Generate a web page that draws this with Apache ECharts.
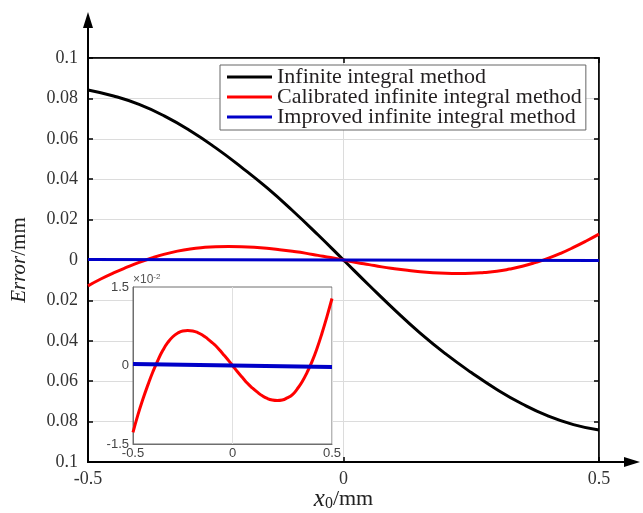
<!DOCTYPE html>
<html><head><meta charset="utf-8">
<script src="https://cdn.jsdelivr.net/npm/echarts@6/dist/echarts.min.js"></script>
</head>
<body style="margin:0;background:#fff">
<div id="c" style="width:643px;height:513px"></div>
<script>
// ---- data (x0 in mm, error in mm) ----
const xCoarse = [-0.5,-0.45,-0.4,-0.35,-0.3,-0.25,-0.2,-0.15,-0.1,-0.05,0,0.05,0.1,0.15,0.2,0.25,0.3,0.35,0.4,0.45,0.5];
const infiniteIntegral = [0.0842,0.0812,0.0770,0.0712,0.0640,0.0555,0.0460,0.0358,0.0245,0.0125,0,-0.0125,-0.0247,-0.0362,-0.0465,-0.0557,-0.0641,-0.0713,-0.0772,-0.0815,-0.0842];
const xFine = [-0.5,-0.475,-0.45,-0.425,-0.4,-0.375,-0.35,-0.325,-0.3,-0.275,-0.25,-0.225,-0.2,-0.175,-0.15,-0.125,-0.1,-0.075,-0.05,-0.025,0,
               0.025,0.05,0.075,0.1,0.125,0.15,0.175,0.2,0.225,0.25,0.275,0.3,0.325,0.35,0.375,0.4,0.425,0.45,0.475,0.5];
const calibrated = [-0.0128,-0.0094,-0.0064,-0.0037,-0.0012,0.0010,0.0029,0.0044,0.0055,0.0062,0.0066,0.0067,0.0066,0.0063,0.0058,0.0051,0.0043,0.0034,0.0023,0.0012,0,
                    -0.0012,-0.0023,-0.0034,-0.0043,-0.0051,-0.0058,-0.0063,-0.0066,-0.0067,-0.0066,-0.0062,-0.0056,-0.0045,-0.0031,-0.0013,0.0008,0.0033,0.0062,0.0094,0.0128];
const improvedX = [-0.5,-0.25,0,0.25,0.5];
const improved = [0.0003,0.00015,0,-0.00015,-0.0003];
const seriesNames = ['Infinite integral method','Calibrated infinite integral method','Improved infinite integral method'];
const insetScale = 100; // inset shown in units of 10^-2 mm

const pairs = (xs, ys, k) => xs.map((x, i) => [x, ys[i] * (k || 1)]);
const serif = 'Liberation Serif';
const sans = 'Liberation Sans';

const chart = echarts.init(document.getElementById('c'));
chart.setOption({
  animation: false,
  backgroundColor: '#fff',
  grid: [
    {left: 88, right: 44, top: 58, bottom: 51, show: true, borderColor: '#000', borderWidth: 1.5,
     backgroundColor: 'transparent', containLabel: false, outerBoundsMode: 'none'},
    {left: 133, right: 311, top: 287, bottom: 69, show: true, borderColor: '#6e6e6e', borderWidth: 1,
     backgroundColor: '#fff', z: 3, containLabel: false, outerBoundsMode: 'none'}
  ],
  legend: {
    data: seriesNames,
    orient: 'vertical', left: 220, top: 65, itemGap: -2,
    padding: [1, 4, 2, 7],
    borderColor: '#666', borderWidth: 1, backgroundColor: '#fff',
    icon: 'rect', itemWidth: 45, itemHeight: 3,
    textStyle: {fontFamily: serif, fontSize: 22, color: '#231f20', lineHeight: 20},
    z: 10
  },
  xAxis: [
    {type: 'value', gridIndex: 0, min: -0.5, max: 0.5, interval: 0.5, position: 'bottom',
     axisLine: {onZero: false, lineStyle: {color: '#000', width: 2}},
     axisTick: {inside: true, length: 5, lineStyle: {color: '#000', width: 1.5}},
     axisLabel: {fontFamily: serif, fontSize: 18, color: '#333', margin: 8},
     splitLine: {show: true, lineStyle: {color: '#dcdcdc', width: 1}},
     name: '{i|x}{s|0}/mm', nameLocation: 'middle', nameGap: 24, nameMoveOverlap: false,
     nameTextStyle: {fontFamily: serif, fontSize: 22, color: '#222',
       rich: {i: {fontFamily: serif, fontStyle: 'italic', fontSize: 25, color: '#222'},
              s: {fontFamily: serif, fontSize: 16, color: '#222', verticalAlign: 'bottom', padding: [10, 0, 0, 0]}}}},
    {type: 'value', gridIndex: 0, min: -0.5, max: 0.5, interval: 0.5, position: 'top',
     axisLine: {onZero: false, lineStyle: {color: '#000', width: 1.5}},
     axisTick: {inside: true, length: 5, lineStyle: {color: '#000', width: 1.5}},
     axisLabel: {show: false}, splitLine: {show: false}},
    {type: 'value', gridIndex: 1, min: -0.5, max: 0.5, interval: 0.5, z: 4,
     axisLine: {onZero: false, lineStyle: {color: '#6e6e6e', width: 1}},
     axisTick: {show: false},
     axisLabel: {fontFamily: sans, fontSize: 13, color: '#444', margin: 3},
     splitLine: {show: true, lineStyle: {color: '#e0e0e0'}}}
  ],
  yAxis: [
    {type: 'value', gridIndex: 0, min: -0.1, max: 0.1, interval: 0.02, position: 'left',
     axisLine: {onZero: false, lineStyle: {color: '#000', width: 2}},
     axisTick: {inside: true, length: 5, lineStyle: {color: '#000', width: 1.5}},
     axisLabel: {fontFamily: serif, fontSize: 18, color: '#333', margin: 10,
       formatter: v => String(Math.round(Math.abs(v) * 100) / 100)},
     splitLine: {show: true, lineStyle: {color: '#dcdcdc', width: 1}},
     name: '{i|Error}/mm', nameLocation: 'middle', nameGap: 58, nameRotate: 90, nameMoveOverlap: false,
     nameTextStyle: {fontFamily: serif, fontSize: 21, color: '#222',
       rich: {i: {fontFamily: serif, fontStyle: 'italic', fontSize: 21, color: '#222'}}}},
    {type: 'value', gridIndex: 0, min: -0.1, max: 0.1, interval: 0.02, position: 'right',
     axisLine: {onZero: false, lineStyle: {color: '#000', width: 1.5}},
     axisTick: {inside: true, length: 5, lineStyle: {color: '#000', width: 1.5}},
     axisLabel: {show: false}, splitLine: {show: false}},
    {type: 'value', gridIndex: 1, min: -1.5, max: 1.5, interval: 1.5, z: 4,
     axisLine: {onZero: false, lineStyle: {color: '#6e6e6e', width: 1}},
     axisTick: {show: false},
     axisLabel: {fontFamily: sans, fontSize: 13, color: '#444', margin: 4},
     splitLine: {show: false},
     name: '{a|×10}{b|-2}', nameLocation: 'end', nameGap: 0, nameMoveOverlap: false,
     nameTextStyle: {align: 'left', rich: {a: {fontFamily: sans, fontSize: 12, color: '#555'},
                                         b: {fontFamily: sans, fontSize: 8, color: '#555', verticalAlign: 'top', padding: [0, 0, 6, 0]}}}}
  ],
  series: [
    {name: seriesNames[0], type: 'line', xAxisIndex: 0, yAxisIndex: 0, smooth: true, showSymbol: false,
     data: pairs(xCoarse, infiniteIntegral), lineStyle: {color: '#000', width: 3}, itemStyle: {color: '#000'}, z: 2},
    {name: seriesNames[1], type: 'line', xAxisIndex: 0, yAxisIndex: 0, smooth: true, showSymbol: false,
     data: pairs(xFine, calibrated), lineStyle: {color: '#ff0000', width: 3}, itemStyle: {color: '#ff0000'}, z: 2},
    {name: seriesNames[2], type: 'line', xAxisIndex: 0, yAxisIndex: 0, showSymbol: false,
     data: pairs(improvedX, improved), lineStyle: {color: '#0000c8', width: 3}, itemStyle: {color: '#0000c8'}, z: 3},
    {name: seriesNames[1], type: 'line', xAxisIndex: 2, yAxisIndex: 2, smooth: true, showSymbol: false,
     data: pairs(xFine, calibrated, insetScale), lineStyle: {color: '#ff0000', width: 3}, itemStyle: {color: '#ff0000'}, z: 6},
    {name: seriesNames[2], type: 'line', xAxisIndex: 2, yAxisIndex: 2, showSymbol: false,
     data: pairs(improvedX, improved, insetScale), lineStyle: {color: '#0000c8', width: 4}, itemStyle: {color: '#0000c8'}, z: 7}
  ]
});

// axis arrows extending beyond the plot box
const tl = chart.convertToPixel({xAxisIndex: 0, yAxisIndex: 0}, [-0.5, 0.1]);
const br = chart.convertToPixel({xAxisIndex: 0, yAxisIndex: 0}, [0.5, -0.1]);
const yTip = 12, xTip = 640;
chart.setOption({graphic: [
  {type: 'line', shape: {x1: tl[0], y1: tl[1], x2: tl[0], y2: yTip + 12}, style: {stroke: '#000', lineWidth: 2}, z: 10},
  {type: 'polygon', shape: {points: [[tl[0], yTip], [tl[0] - 5, yTip + 16], [tl[0] + 5, yTip + 16]]}, style: {fill: '#000'}, z: 10},
  {type: 'line', shape: {x1: br[0], y1: br[1], x2: xTip - 12, y2: br[1]}, style: {stroke: '#000', lineWidth: 2}, z: 10},
  {type: 'polygon', shape: {points: [[xTip, br[1]], [xTip - 16, br[1] - 5], [xTip - 16, br[1] + 5]]}, style: {fill: '#000'}, z: 10}
]});
</script>
</body></html>
